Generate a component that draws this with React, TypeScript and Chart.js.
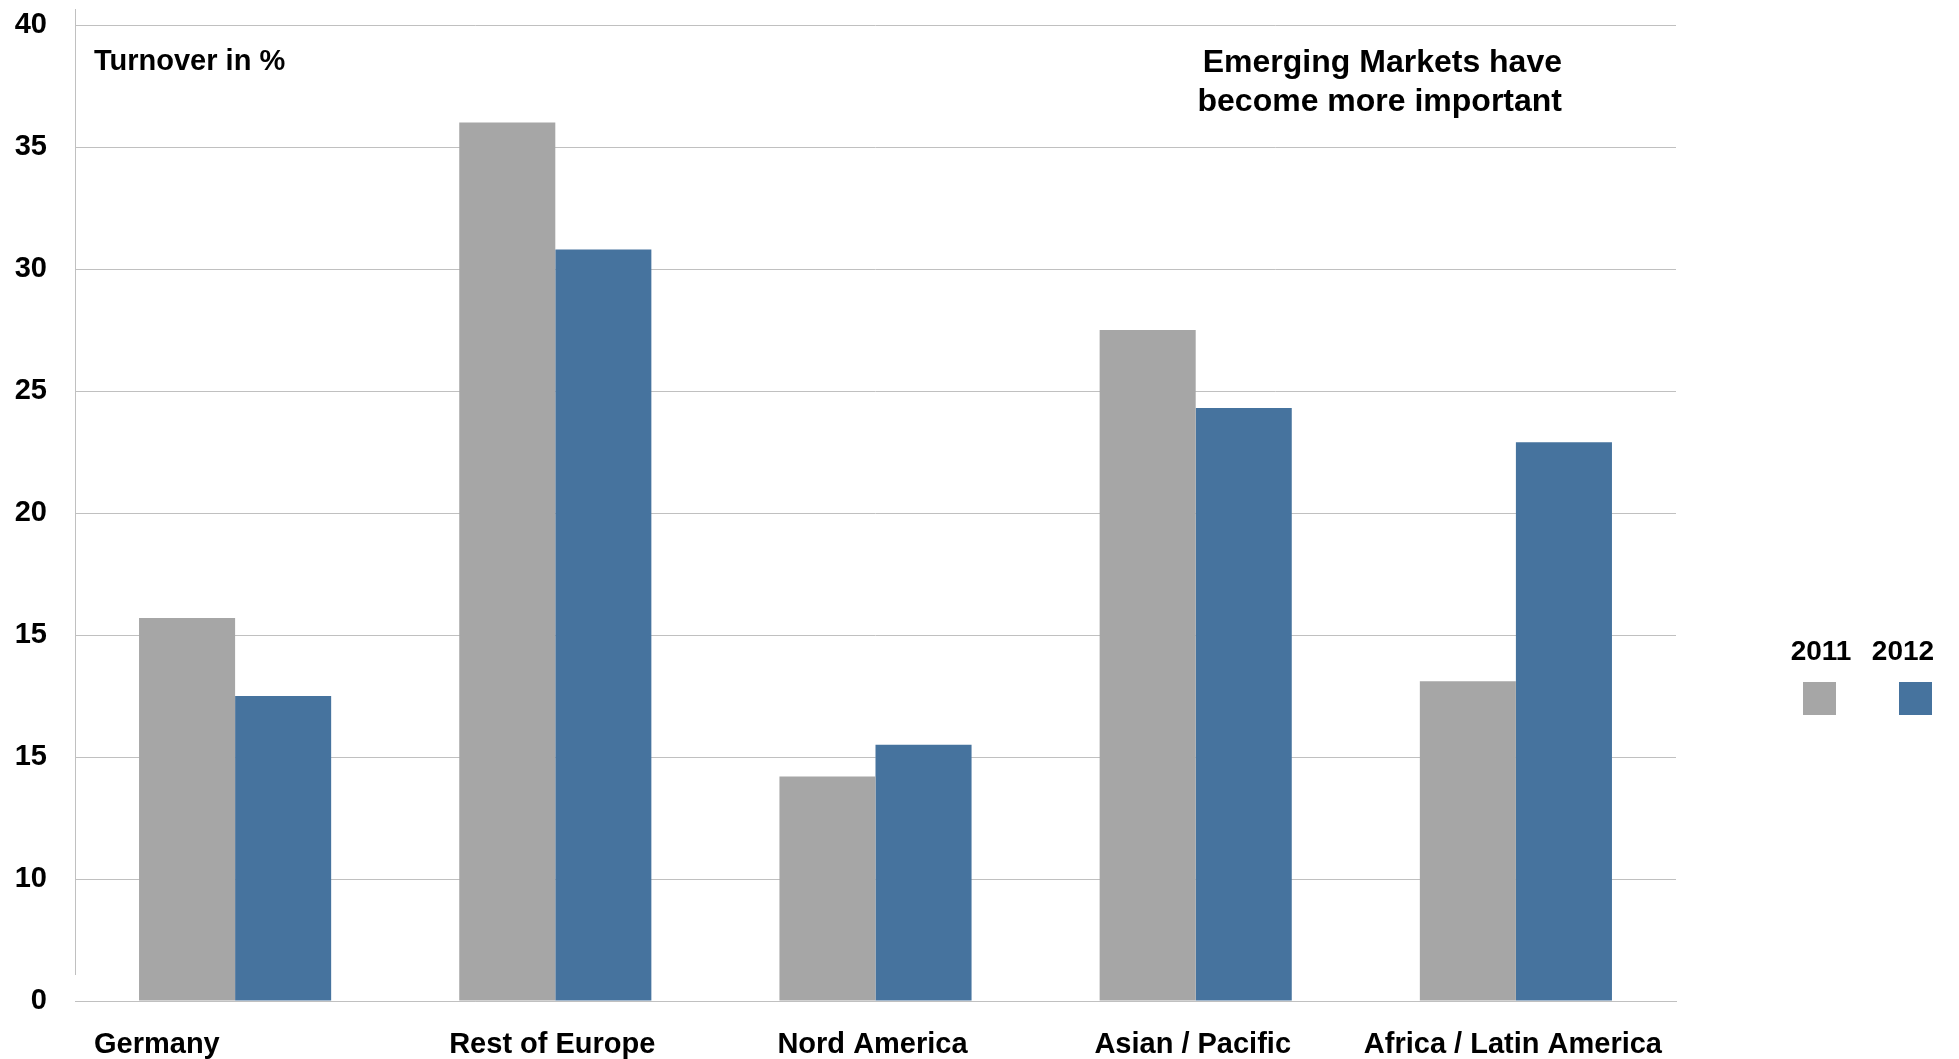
import React, { useEffect, useRef } from "react";
import { Chart, registerables } from "chart.js";

Chart.register(...registerables);

const categories = ["Germany", "Rest of Europe", "Nord America", "Asian / Pacific", "Africa / Latin America"];
const seriesLabels = ["2011", "2012"];
const values2011 = [15.7, 36.0, 9.2, 27.5, 13.1];
const values2012 = [12.5, 30.8, 10.5, 24.3, 22.9];
const seriesColors = ["#a6a6a6", "#46739e"];
const yTickLabels = ["0", "10", "15", "15", "20", "25", "30", "35", "40"];
const noteLeft = "Turnover in %";
const noteRight = ["Emerging Markets have", "become more important"];

const FONT = "'Liberation Sans', Arial, sans-serif";
const GRID = "#c0c0c0";

const overlayPlugin = {
  id: "overlay",
  afterDraw(chart: any) {
    const ctx = chart.ctx as CanvasRenderingContext2D;
    const area = chart.chartArea;
    const xScale = chart.scales.x;
    ctx.save();
    // y axis line (starts above the top grid line, stops short of the base line)
    ctx.strokeStyle = GRID;
    ctx.lineWidth = 1;
    ctx.beginPath();
    ctx.moveTo(area.left + 0.5, area.top - 16);
    ctx.lineTo(area.left + 0.5, area.bottom - 26);
    ctx.stroke();

    // category labels
    ctx.fillStyle = "#000";
    ctx.font = `bold 29px ${FONT}`;
    ctx.textBaseline = "middle";
    const half = (xScale.getPixelForValue(1) - xScale.getPixelForValue(0)) / 2;
    (chart.data.labels as string[]).forEach((lab, i) => {
      const px = xScale.getPixelForValue(i);
      if (i === 0) {
        ctx.textAlign = "left";
        ctx.fillText(lab, px - half + 19, area.bottom + 44);
      } else {
        ctx.textAlign = "center";
        ctx.fillText(lab, px - 3, area.bottom + 44);
      }
    });

    // notes
    ctx.textAlign = "left";
    ctx.fillText(noteLeft, area.left + 19, area.top + 37);
    ctx.font = `bold 32px ${FONT}`;
    ctx.textAlign = "right";
    noteRight.forEach((line, i) => {
      ctx.fillText(line, 1562, area.top + 38 + i * 39);
    });

    // legend: labels above colour squares
    const legendX = [1819, 1915];
    chart.data.datasets.forEach((ds: any, i: number) => {
      ctx.font = `bold 28px ${FONT}`;
      ctx.textAlign = "center";
      ctx.fillStyle = "#000";
      ctx.fillText(ds.label, legendX[i] + (i === 0 ? 2 : -12), 652);
      ctx.fillStyle = ds.backgroundColor;
      ctx.fillRect(legendX[i] - 16, 682, 33, 33);
    });
    ctx.restore();
  },
};

export default function App() {
  const ref = useRef<HTMLCanvasElement | null>(null);
  useEffect(() => {
    if (!ref.current) return;
    const chart = new Chart(ref.current, {
      type: "bar",
      data: {
        labels: categories,
        datasets: [
          { label: seriesLabels[0], data: values2011, backgroundColor: seriesColors[0], borderWidth: 0 },
          { label: seriesLabels[1], data: values2012, backgroundColor: seriesColors[1], borderWidth: 0 },
        ],
      },
      options: {
        animation: false,
        responsive: false,
        maintainAspectRatio: false,
        devicePixelRatio: 1,
        layout: { padding: { top: 25, right: 283, bottom: 0, left: 0 } },
        plugins: { legend: { display: false }, tooltip: { enabled: false }, title: { display: false } },
        datasets: { bar: { categoryPercentage: 0.6, barPercentage: 1.0 } },
        scales: {
          x: {
            grid: { display: false, drawTicks: false },
            border: { display: true, color: GRID, width: 1 },
            ticks: { display: false },
            afterFit(scale: any) {
              scale.height = 58;
              scale.paddingLeft = 0;
              scale.paddingRight = 0;
            },
          },
          y: {
            z: 1,
            min: 0,
            max: 40,
            grid: { color: GRID, lineWidth: 1, drawTicks: false },
            border: { display: false },
            ticks: {
              stepSize: 5,
              color: "#000",
              padding: 28,
              font: { family: FONT, size: 29, weight: "bold" },
              callback: (_v: any, i: number) => yTickLabels[i],
            },
            afterFit(scale: any) {
              scale.width = 75;
              scale.paddingTop = 0;
              scale.paddingBottom = 0;
            },
          },
        },
      },
      plugins: [overlayPlugin],
    });
    return () => chart.destroy();
  }, []);
  return (
    <div style={{ position: "absolute", left: 0, top: 0, width: 1959, height: 1059, background: "#fff" }}>
      <canvas ref={ref} width={1959} height={1059} style={{ display: "block" }} />
    </div>
  );
}
